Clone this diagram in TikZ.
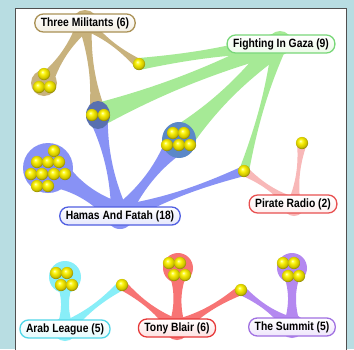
\documentclass[tikz,border=0pt]{standalone}
\usepackage{fontspec}
\newfontfamily\labfont[FakeStretch=0.86]{Liberation Sans}
\usetikzlibrary{calc}
\definecolor{bgc}{RGB}{184,221,226}
\definecolor{frame}{RGB}{80,80,80}
\definecolor{tanc}{RGB}{200,178,125}
\definecolor{tanb}{RGB}{170,145,85}
\definecolor{grc}{RGB}{166,234,150}
\definecolor{grb}{RGB}{120,215,120}
\definecolor{blc}{RGB}{136,146,245}
\definecolor{blb}{RGB}{80,95,225}
\definecolor{pkc}{RGB}{248,184,184}
\definecolor{pkb}{RGB}{232,80,80}
\definecolor{cyc}{RGB}{136,238,248}
\definecolor{cyb}{RGB}{80,215,232}
\definecolor{rdc}{RGB}{247,116,116}
\definecolor{rdb}{RGB}{230,56,56}
\definecolor{puc}{RGB}{180,136,240}
\definecolor{pub}{RGB}{160,112,225}
\definecolor{ovA}{RGB}{88,112,176}
\definecolor{ovB}{RGB}{91,136,200}
\definecolor{ballc}{RGB}{240,228,0}
\pgfdeclareradialshading{yball}{\pgfpoint{-7bp}{9bp}}{%
  color(0bp)=(yellow!10!white); color(5bp)=(yellow!75!white); color(13bp)=(ballc);
  color(22bp)=(ballc!85!black); color(28bp)=(ballc!55!black); color(50bp)=(ballc!55!black)}
% tapered band from #1 to #2: widths at start, middle, end; colour
\newcommand\band[6]{%
  \coordinate (bA) at (#1);
  \coordinate (bB) at (#2);
  \coordinate (bP) at ($(bA)!0.35!(bB)$);
  \coordinate (bQ) at ($(bA)!0.65!(bB)$);
  \fill[#6] ($(bA)!#3pt!90:(bB)$) .. controls ($(bP)!#4pt!90:(bB)$) and ($(bQ)!#4pt!-90:(bA)$) .. ($(bB)!#5pt!-90:(bA)$)
    -- ($(bB)!#5pt!90:(bA)$) .. controls ($(bQ)!#4pt!90:(bA)$) and ($(bP)!#4pt!-90:(bB)$) .. ($(bA)!#3pt!-90:(bB)$) -- cycle;
  \fill[#6] (bB) circle[radius=#5pt];
  \fill[#6] (bA) circle[radius=#3pt];
}
\tikzset{
  ballnode/.style={circle, inner sep=0pt, minimum size=12.2pt, shading=yball},
  lab/.style={draw=#1b, line width=1.3pt, rounded corners=8.5pt, top color=white, bottom color=#1c!22,
    minimum height=18pt, inner xsep=6pt, inner ysep=0pt, text=black,
    font=\labfont\bfseries\fontsize{12}{12}\selectfont}
}
\begin{document}
\begin{tikzpicture}[x=1pt,y=-1pt]
\useasboundingbox (0,0) rectangle (354,349);
\fill[bgc] (0,0) rectangle (354,349);
\fill[white] (15,8) rectangle (346,352);
% hubs and cluster centres
\coordinate (tmh) at (85,23);
\coordinate (fgh) at (280,43);
\coordinate (hfh) at (120,215);
\coordinate (prh) at (294,205);
\coordinate (alh) at (65,329);
\coordinate (tbh) at (177,328);
\coordinate (tsh) at (292,326);
\coordinate (c3) at (44,83);
\coordinate (s1) at (139,64);
\coordinate (c2) at (98,115);
\coordinate (c10) at (48,168);
\coordinate (c5) at (179,140);
\coordinate (s2) at (244,171);
\coordinate (s3) at (302,143);
\coordinate (ca) at (65,277);
\coordinate (s4) at (122,285);
\coordinate (ct) at (178,268);
\coordinate (s5) at (241,290);
\coordinate (cs) at (292,268);
\begin{scope}
\clip (15,8) rectangle (346,352);
% tan
\band{tmh}{c3}{8}{1}{9}{tanc}
\band{tmh}{s1}{7}{0.5}{5}{tanc}
\band{tmh}{c2}{7}{1}{9}{tanc}
\fill[tanc] (c3) circle[radius=13pt];
\fill[tanc] (tmh) circle[radius=13pt];
% green
\band{fgh}{s1}{11}{3}{6}{grc}
\band{fgh}{c2}{11}{3.5}{12}{grc}
\band{fgh}{c5}{11}{3.5}{14}{grc}
\band{fgh}{s2}{8}{0.8}{5}{grc}
\fill[grc] (fgh) circle[radius=12pt];
% blue
\band{hfh}{c10}{12}{4}{20}{blc}
\band{hfh}{c2}{9}{1.5}{10}{blc}
\band{hfh}{c5}{10}{2}{13}{blc}
\band{hfh}{s2}{10}{1}{5}{blc}
\fill[blc] (c10) circle[radius=25pt];
\fill[blc] (hfh) circle[radius=14pt];
\fill[ovA] (c2) circle[x radius=12pt, y radius=14pt];
\fill[ovB] (c5) circle[x radius=17pt, y radius=18pt];
% pink
\band{prh}{s2}{8}{1}{5}{pkc}
\band{prh}{s3}{7}{0.5}{5}{pkc}
\fill[pkc] (prh) circle[radius=11pt];
% cyan
\band{alh}{ca}{9}{2}{11}{cyc}
\band{alh}{s4}{8}{1}{5}{cyc}
\fill[cyc] (ca) circle[radius=16pt];
\fill[cyc] (alh) circle[radius=12pt];
% red
\band{tbh}{s4}{9}{1}{5}{rdc}
\band{tbh}{ct}{9}{2}{11}{rdc}
\band{tbh}{s5}{9}{1}{5}{rdc}
\fill[rdc] (ct) circle[radius=15pt];
\fill[rdc] (tbh) circle[radius=12pt];
% purple
\band{tsh}{s5}{9}{1}{5}{puc}
\band{tsh}{cs}{9}{2}{11}{puc}
\fill[puc] (cs) circle[radius=15pt];
\fill[puc] (tsh) circle[radius=12pt];
\end{scope}
\draw[frame, line width=1pt] (15,352) -- (15,8) -- (346,8) -- (346,352);
% balls
\node[ballnode] (b1) at (44,74) {};
\node[ballnode] (b2) at (39,87) {};
\node[ballnode] (b3) at (50,87) {};
\node[ballnode] (b4) at (s1) {};
\node[ballnode] (b5) at (92,115) {};
\node[ballnode] (b6) at (104,115) {};
\node[ballnode] (b7) at (54,151) {};
\node[ballnode] (b8) at (37,162) {};
\node[ballnode] (b9) at (48,162) {};
\node[ballnode] (b10) at (59,162) {};
\node[ballnode] (b11) at (31,174) {};
\node[ballnode] (b12) at (42,174) {};
\node[ballnode] (b13) at (54,174) {};
\node[ballnode] (b14) at (65,174) {};
\node[ballnode] (b15) at (37,186) {};
\node[ballnode] (b16) at (48,186) {};
\node[ballnode] (b17) at (173,133) {};
\node[ballnode] (b18) at (184,133) {};
\node[ballnode] (b19) at (167,145) {};
\node[ballnode] (b20) at (179,145) {};
\node[ballnode] (b21) at (190,145) {};
\node[ballnode] (b22) at (s2) {};
\node[ballnode] (b23) at (s3) {};
\node[ballnode] (b24) at (56,273) {};
\node[ballnode] (b25) at (67,273) {};
\node[ballnode] (b26) at (61,285) {};
\node[ballnode] (b27) at (72,285) {};
\node[ballnode] (b28) at (s4) {};
\node[ballnode] (b29) at (169,263) {};
\node[ballnode] (b30) at (180,263) {};
\node[ballnode] (b31) at (174,275) {};
\node[ballnode] (b32) at (185,275) {};
\node[ballnode] (b33) at (s5) {};
\node[ballnode] (b34) at (283,263) {};
\node[ballnode] (b35) at (294,263) {};
\node[ballnode] (b36) at (288,276) {};
\node[ballnode] (b37) at (299,276) {};
% labels
\node[lab=tan] (tm) at (85,23) {Three Militants (6)};
\node[lab=gr] (fg) at (281,44) {Fighting In Gaza (9)};
\node[lab=pk] (pr) at (293,204) {Pirate Radio (2)};
\node[lab=bl] (hf) at (120,216) {Hamas And Fatah (18)};
\node[lab=cy] (al) at (65,329) {Arab League (5)};
\node[lab=rd] (tb) at (177,328) {Tony Blair (6)};
\node[lab=pu] (ts) at (292,327) {The Summit (5)};
\end{tikzpicture}
\end{document}
